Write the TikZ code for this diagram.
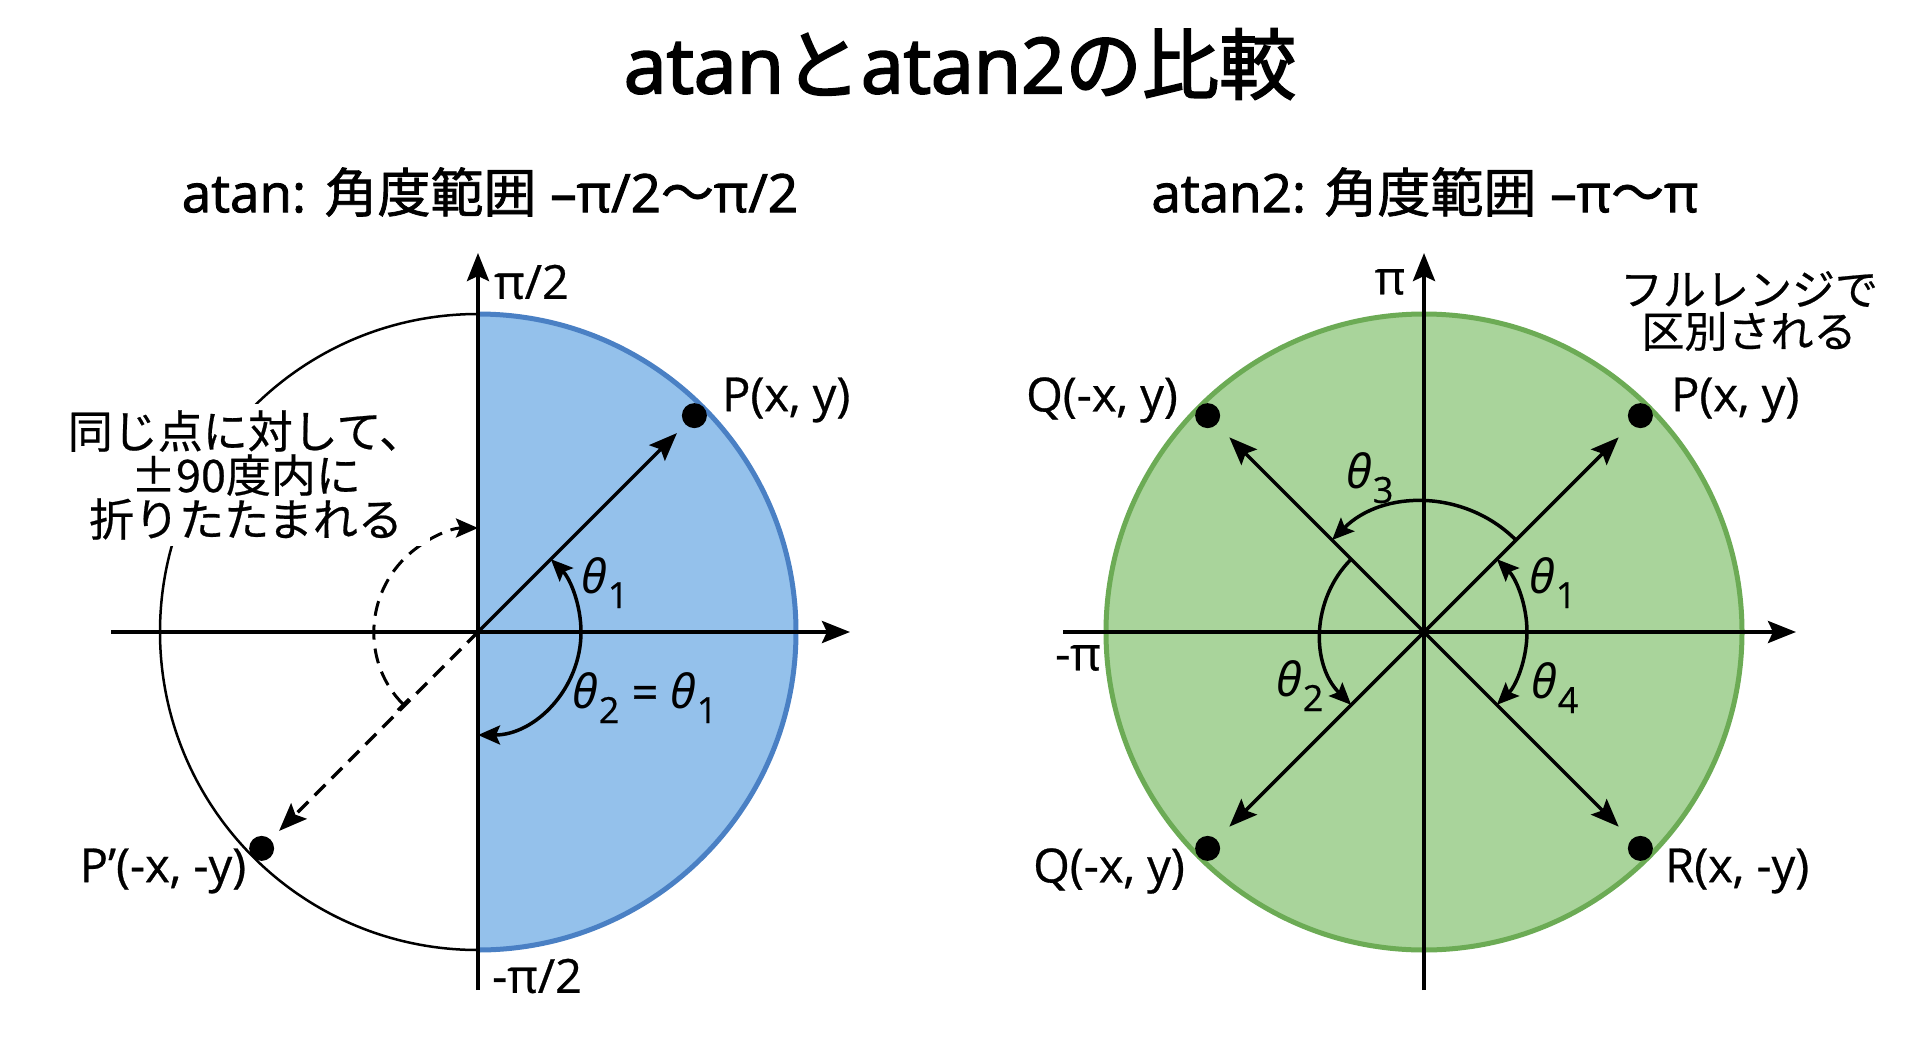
\documentclass[tikz,border=0pt]{standalone}
\usepackage{fontspec}
\setmainfont{Open Sans}[FakeBold=0.6]
\newfontfamily\jp{Noto Sans CJK JP}[FakeBold=0.5]
\newfontfamily\lsemi{Open Sans}[FakeBold=1.8]
\newfontfamily\jpsemi{Noto Sans CJK JP}[FakeBold=1.3]
\newfontfamily\ltitle{Open Sans}[FakeBold=2.6]
\newfontfamily\jptitle{Noto Sans CJK JP}[FakeBold=2.2]
\newfontfamily\thfont{Noto Sans}
\usetikzlibrary{arrows.meta}
\definecolor{bluefill}{HTML}{94C1EB}
\definecolor{blueedge}{HTML}{4A80C4}
\definecolor{greenfill}{HTML}{A9D49B}
\definecolor{greenedge}{HTML}{6CAB55}
\newcommand{\fs}[1]{\fontsize{#1}{#1}\selectfont}
\newcommand{\thl}[1]{{\thfont\itshape θ}\kern1pt\raisebox{-0.3em}{\fontsize{36}{36}\selectfont #1}}
\begin{document}
\begin{tikzpicture}[x=1pt,y=1pt,
  axisline/.style={line width=4pt,-{Stealth[length=28pt,width=22pt,inset=5pt]}},
  ray/.style={line width=3.5pt,-{Stealth[length=28pt,width=22pt,inset=5pt]},shorten >=12pt},
  angarc/.style={line width=3.5pt},
  dot/.style={circle,fill=black,inner sep=0pt,minimum size=25pt},
  lbl/.style={font=\fs{47},inner sep=0pt},
  thlbl/.style={font=\fs{47},inner sep=0pt},
  jptext/.style={font=\jp\fontsize{45}{44}\selectfont,align=center,inner sep=6pt},
  heading/.style={font=\lsemi\fs{53},inner sep=0pt}]
\useasboundingbox (0,0) rectangle (1920,-1047);
\fill[white] (0,0) rectangle (1920,-1047);

% title
\node[font=\ltitle\fs{77},inner sep=0pt] (title) at (960,-64) {atan{\jptitle と}atan2{\jptitle の比較}};
\node[heading] (subL) at (490,-192) {atan: {\jpsemi 角度範囲} –π/2{\jpsemi 〜}π/2};
\node[heading] (subR) at (1425,-192) {atan2: {\jpsemi 角度範囲} –π{\jpsemi 〜}π};

% ---------------- left diagram ----------------
\coordinate (OL) at (478,-632);
\fill[bluefill] ([shift={(90:318)}]OL) arc[start angle=90,end angle=-90,radius=318] -- cycle;
\draw[blueedge,line width=5pt] ([shift={(90:318)}]OL) arc[start angle=90,end angle=-90,radius=318];
\draw[line width=2.5pt] ([shift={(90:318)}]OL) arc[start angle=90,end angle=270,radius=318];
\coordinate (LXs) at (111,-632);
\coordinate (LXe) at (850,-632);
\coordinate (LYs) at (478,-990);
\coordinate (LYe) at (478,-253);
\draw[axisline] (LXs) -- (LXe);
\draw[axisline] (LYs) -- (LYe);

\node[dot] (P) at ([shift={(45:306)}]OL) {};
\node[dot] (Pp) at ([shift={(225:306)}]OL) {};
\draw[ray] (OL) -- (P);
\draw[ray,dash pattern=on 15pt off 9pt] (OL) -- (Pp);

\draw[line width=3pt,dash pattern=on 15pt off 9pt,{Bar[width=16pt,line width=3pt]}-{Stealth[length=22pt,width=19pt,inset=4pt]}]
  ([shift={(225:104)}]OL) arc[start angle=225,end angle=90,radius=104];
\draw[angarc,{Stealth[length=22pt,width=19pt,inset=4pt]}-{Stealth[length=22pt,width=19pt,inset=4pt]}]
  ([shift={(-90:103)}]OL) arc[start angle=-90,end angle=45,radius=103];

\node[jptext,fill=white] (noteL) at (246,-475) {同じ点に対して、\\±90度内に\\折りたたまれる};

\node[lbl,anchor=west] (piH) at (494,-282) {π/2};
\node[lbl,anchor=west] (mpiH) at (492,-976) {-π/2};
\node[lbl,anchor=west] (Plbl) at (722,-400) {P(x, y)};
\node[lbl] (Pplbl) at (163,-871) {P’(-x, -y)};
\node[thlbl] (th1L) at (605,-583) {\thl{1}};
\node[thlbl] (th2L) at (645,-698) {\thl{2} = \thl{1}};

% ---------------- right diagram ----------------
\coordinate (OR) at (1424,-632);
\fill[greenfill] (OR) circle[radius=318];
\draw[greenedge,line width=5pt] (OR) circle[radius=318];
\coordinate (RXs) at (1063,-632);
\coordinate (RXe) at (1796,-632);
\coordinate (RYs) at (1424,-990);
\coordinate (RYe) at (1424,-253);
\draw[axisline] (RXs) -- (RXe);
\draw[axisline] (RYs) -- (RYe);

\node[dot] (RP) at ([shift={(45:306)}]OR) {};
\node[dot] (RQ) at ([shift={(135:306)}]OR) {};
\node[dot] (RQb) at ([shift={(225:306)}]OR) {};
\node[dot] (RR) at ([shift={(315:306)}]OR) {};
\draw[ray,shorten >=18pt] (OR) -- (RP);
\draw[ray,shorten >=18pt] (OR) -- (RQ);
\draw[ray,shorten >=18pt] (OR) -- (RQb);
\draw[ray,shorten >=18pt] (OR) -- (RR);

\draw[angarc,-{Stealth[length=22pt,width=19pt,inset=4pt]}] ([shift={(0:103)}]OR) arc[start angle=0,end angle=45,radius=103];
\draw[angarc,-{Stealth[length=22pt,width=19pt,inset=4pt]}] ([shift={(0:103)}]OR) arc[start angle=0,end angle=-45,radius=103];
\draw[angarc,-{Stealth[length=22pt,width=19pt,inset=4pt]}] ([shift={(45:130)}]OR) arc[start angle=45,end angle=135,radius=130];
\draw[angarc,-{Stealth[length=22pt,width=19pt,inset=4pt]}] ([shift={(135:103)}]OR) arc[start angle=135,end angle=225,radius=103];

\node[lbl] (piR) at (1390,-282) {π};
\node[lbl] (mpiR) at (1078,-658) {-π};
\node[jptext,font=\jp\fontsize{43}{42}\selectfont,inner sep=0pt] (noteR) at (1749,-311) {フルレンジで\\区別される};
\node[lbl,anchor=east] (Qlbl) at (1178,-400) {Q(-x, y)};
\node[lbl,anchor=west] (RPlbl) at (1671,-400) {P(x, y)};
\node[lbl,anchor=east] (Qblbl) at (1185,-871) {Q(-x, y)};
\node[lbl,anchor=west] (Rlbl) at (1665,-871) {R(x, -y)};
\node[thlbl] (th3) at (1370,-478) {\thl{3}};
\node[thlbl] (th1R) at (1553,-583) {\thl{1}};
\node[thlbl] (th2R) at (1300,-686) {\thl{2}};
\node[thlbl] (th4R) at (1555,-688) {\thl{4}};
\end{tikzpicture}
\end{document}
